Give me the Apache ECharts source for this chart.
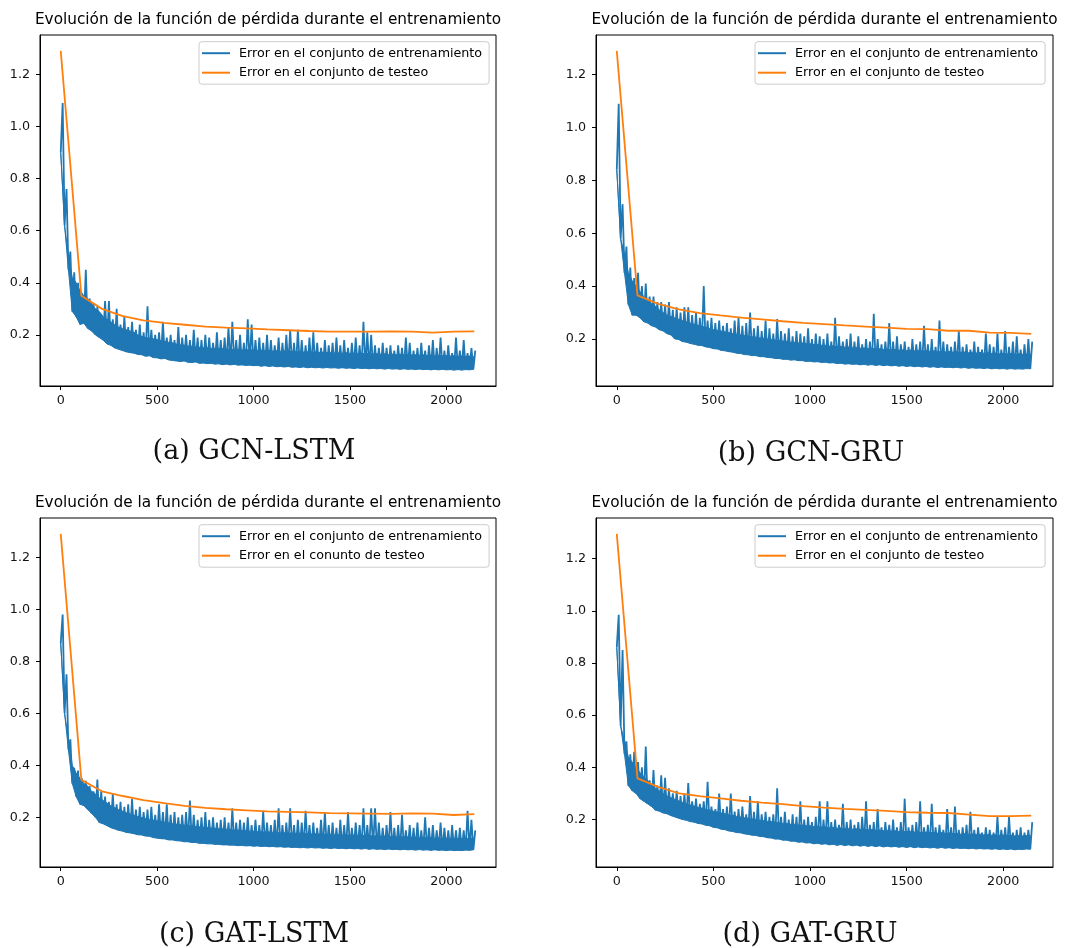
<!DOCTYPE html>
<html>
<head>
<meta charset="utf-8">
<title>Evolución de la función de pérdida</title>
<script src="https://cdn.jsdelivr.net/npm/echarts@6/dist/echarts.min.js"></script>
<style>
  html, body { margin: 0; padding: 0; background: #fff; }
  #chart { width: 1078px; height: 948px; }
</style>
</head>
<body>
<div id="chart"></div>
<script>
// colores estilo matplotlib
const trainColor = '#1f77b4'
const testColor = '#ff7f0e'

const trainName = 'Error en el conjunto de entrenamiento'
const testName = 'Error en el conjunto de testeo'
const testNameTypo = 'Error en el conunto de testeo'

const xTicks = [0, 500, 1000, 1500, 2000]
const yTicks = [0.2, 0.4, 0.6, 0.8, 1.0, 1.2]

// pasos donde se evalua el conjunto de testeo
const testSteps = [0, 107, 214, 322, 429, 536, 643, 751, 858, 965, 1072, 1180, 1287, 1394, 1501, 1609, 1716, 1823, 1930, 2038, 2145]

const gcnLstmTest = [1.29, 0.35, 0.30, 0.272, 0.256, 0.246, 0.239, 0.232, 0.228, 0.225, 0.221, 0.218, 0.215, 0.213, 0.213, 0.213, 0.214, 0.213, 0.209, 0.213, 0.214]
const gcnGruTest = [1.29, 0.365, 0.333, 0.312, 0.298, 0.289, 0.281, 0.274, 0.267, 0.261, 0.256, 0.251, 0.247, 0.243, 0.238, 0.237, 0.231, 0.231, 0.224, 0.223, 0.219]
const gatLstmTest = [1.29, 0.344, 0.30, 0.282, 0.266, 0.255, 0.244, 0.236, 0.231, 0.227, 0.223, 0.221, 0.219, 0.216, 0.215, 0.214, 0.213, 0.215, 0.214, 0.209, 0.212]
const gatGruTest = [1.295, 0.358, 0.325, 0.30, 0.29, 0.281, 0.272, 0.265, 0.259, 0.251, 0.246, 0.241, 0.237, 0.233, 0.228, 0.226, 0.225, 0.219, 0.213, 0.213, 0.215]

// entrenamiento: valles (pasos 0,20,40,...), borde superior de la banda densa
// (mismos pasos) y picos (pasos 10,30,50,...)
const gcnLstmTrainLow = [
  0.90, 0.62, 0.45, 0.29, 0.27, 0.24, 0.245, 0.225, 0.215, 0.20,
  0.19, 0.18, 0.165, 0.16, 0.15, 0.145, 0.14, 0.135, 0.132, 0.13,
  0.125, 0.124, 0.118, 0.12, 0.113, 0.112, 0.108, 0.11, 0.104, 0.102,
  0.10, 0.098, 0.10, 0.095, 0.094, 0.096, 0.091, 0.092, 0.09, 0.091,
  0.088, 0.089, 0.086, 0.088, 0.085, 0.087, 0.084, 0.085, 0.083, 0.084,
  0.082, 0.083, 0.08, 0.082, 0.079, 0.081, 0.078, 0.079, 0.077, 0.079,
  0.076, 0.077, 0.075, 0.077, 0.074, 0.076, 0.074, 0.075, 0.073, 0.075,
  0.073, 0.074, 0.072, 0.074, 0.072, 0.073, 0.071, 0.073, 0.071, 0.072,
  0.07, 0.072, 0.07, 0.071, 0.069, 0.071, 0.069, 0.07, 0.068, 0.07,
  0.068, 0.069, 0.067, 0.069, 0.067, 0.068, 0.066, 0.068, 0.066, 0.068,
  0.066, 0.067, 0.065, 0.067, 0.065, 0.067, 0.066, 0.068
]
const gcnLstmTrainCore = [
  0.90, 0.62, 0.50, 0.42, 0.40, 0.37, 0.35, 0.34, 0.32, 0.30,
  0.29, 0.27, 0.26, 0.25, 0.24, 0.23, 0.225, 0.22, 0.215, 0.21,
  0.20, 0.195, 0.19, 0.188, 0.185, 0.182, 0.178, 0.176, 0.172, 0.17,
  0.165, 0.162, 0.161, 0.157, 0.157, 0.154, 0.153, 0.151, 0.151, 0.148,
  0.149, 0.147, 0.148, 0.145, 0.146, 0.144, 0.145, 0.142, 0.144, 0.142,
  0.143, 0.14, 0.142, 0.139, 0.141, 0.138, 0.14, 0.137, 0.139, 0.136,
  0.138, 0.135, 0.137, 0.134, 0.136, 0.133, 0.135, 0.132, 0.134, 0.132,
  0.133, 0.131, 0.132, 0.13, 0.132, 0.129, 0.131, 0.128, 0.13, 0.128,
  0.129, 0.127, 0.128, 0.126, 0.128, 0.125, 0.127, 0.124, 0.126, 0.124,
  0.125, 0.123, 0.124, 0.122, 0.124, 0.121, 0.123, 0.12, 0.122, 0.12,
  0.121, 0.119, 0.12, 0.118, 0.12, 0.118, 0.119, 0.118
]
const gcnLstmTrainHigh = [
  1.09, 0.76, 0.52, 0.44, 0.40, 0.36, 0.45, 0.34, 0.32, 0.31,
  0.28, 0.33, 0.33, 0.26, 0.30, 0.24, 0.27, 0.23, 0.25, 0.22,
  0.24, 0.21, 0.31, 0.22, 0.20, 0.21, 0.25, 0.19, 0.20, 0.18,
  0.23, 0.19, 0.20, 0.18, 0.22, 0.19, 0.18, 0.20, 0.19, 0.17,
  0.21, 0.18, 0.19, 0.23, 0.25, 0.18, 0.20, 0.17, 0.26, 0.24,
  0.18, 0.19, 0.17, 0.20, 0.18, 0.16, 0.19, 0.17, 0.20, 0.22,
  0.17, 0.22, 0.18, 0.16, 0.19, 0.21, 0.17, 0.15, 0.18, 0.16,
  0.17, 0.19, 0.16, 0.18, 0.15, 0.17, 0.19, 0.16, 0.25, 0.21,
  0.20, 0.16, 0.15, 0.17, 0.15, 0.16, 0.14, 0.16, 0.15, 0.19,
  0.17, 0.14, 0.15, 0.17, 0.14, 0.16, 0.18, 0.15, 0.19, 0.14,
  0.16, 0.13, 0.19, 0.14, 0.18, 0.13, 0.15, 0.14
]

const gcnGruTrainLow = [
  0.84, 0.58, 0.45, 0.33, 0.29, 0.29, 0.28, 0.265, 0.26, 0.25,
  0.245, 0.235, 0.23, 0.22, 0.215, 0.20, 0.198, 0.19, 0.188, 0.183,
  0.18, 0.176, 0.175, 0.17, 0.168, 0.163, 0.162, 0.157, 0.155, 0.152,
  0.15, 0.146, 0.145, 0.141, 0.14, 0.137, 0.137, 0.133, 0.133, 0.13,
  0.129, 0.126, 0.126, 0.123, 0.123, 0.12, 0.121, 0.118, 0.118, 0.115,
  0.116, 0.113, 0.114, 0.111, 0.112, 0.109, 0.11, 0.107, 0.108, 0.105,
  0.106, 0.104, 0.105, 0.102, 0.104, 0.101, 0.103, 0.10, 0.102, 0.099,
  0.101, 0.098, 0.10, 0.097, 0.099, 0.096, 0.098, 0.095, 0.097, 0.094,
  0.096, 0.093, 0.095, 0.092, 0.094, 0.092, 0.093, 0.091, 0.093, 0.09,
  0.092, 0.089, 0.091, 0.089, 0.09, 0.088, 0.09, 0.087, 0.089, 0.087,
  0.088, 0.086, 0.088, 0.086, 0.087, 0.086, 0.088, 0.087
]
const gcnGruTrainCore = [
  0.84, 0.58, 0.52, 0.45, 0.42, 0.40, 0.38, 0.36, 0.345, 0.335,
  0.325, 0.31, 0.30, 0.29, 0.285, 0.28, 0.275, 0.27, 0.265, 0.26,
  0.256, 0.252, 0.248, 0.244, 0.24, 0.236, 0.233, 0.23, 0.227, 0.224,
  0.221, 0.218, 0.216, 0.213, 0.211, 0.208, 0.207, 0.204, 0.203, 0.20,
  0.199, 0.196, 0.195, 0.192, 0.191, 0.188, 0.188, 0.185, 0.185, 0.182,
  0.182, 0.179, 0.179, 0.176, 0.176, 0.173, 0.174, 0.171, 0.172, 0.169,
  0.17, 0.167, 0.168, 0.165, 0.166, 0.163, 0.165, 0.162, 0.163, 0.16,
  0.162, 0.159, 0.16, 0.157, 0.159, 0.156, 0.158, 0.155, 0.157, 0.154,
  0.156, 0.153, 0.155, 0.152, 0.154, 0.151, 0.153, 0.15, 0.152, 0.149,
  0.151, 0.148, 0.15, 0.147, 0.149, 0.146, 0.148, 0.145, 0.147, 0.144,
  0.146, 0.143, 0.145, 0.142, 0.144, 0.142, 0.143, 0.142
]
const gcnGruTrainHigh = [
  1.09, 0.71, 0.55, 0.47, 0.43, 0.45, 0.40, 0.41, 0.36, 0.36,
  0.34, 0.34, 0.33, 0.34, 0.31, 0.32, 0.30, 0.32, 0.32, 0.29,
  0.30, 0.28, 0.40, 0.27, 0.28, 0.26, 0.27, 0.25, 0.26, 0.24,
  0.27, 0.28, 0.25, 0.26, 0.30, 0.24, 0.25, 0.23, 0.27, 0.24,
  0.22, 0.275, 0.23, 0.22, 0.24, 0.21, 0.23, 0.22, 0.21, 0.24,
  0.20, 0.22, 0.21, 0.20, 0.22, 0.19, 0.28, 0.21, 0.19, 0.20,
  0.22, 0.19, 0.21, 0.18, 0.20, 0.19, 0.295, 0.20, 0.18, 0.19,
  0.26, 0.19, 0.21, 0.18, 0.19, 0.17, 0.20, 0.18, 0.19, 0.25,
  0.18, 0.20, 0.17, 0.27, 0.19, 0.18, 0.17, 0.19, 0.23, 0.17,
  0.18, 0.16, 0.19, 0.17, 0.16, 0.22, 0.18, 0.17, 0.22, 0.16,
  0.23, 0.17, 0.19, 0.21, 0.16, 0.18, 0.20, 0.19
]

const gatLstmTrainLow = [
  0.87, 0.60, 0.46, 0.33, 0.28, 0.25, 0.245, 0.23, 0.215, 0.20,
  0.18, 0.175, 0.168, 0.16, 0.155, 0.15, 0.147, 0.142, 0.14, 0.137,
  0.133, 0.132, 0.128, 0.127, 0.122, 0.12, 0.118, 0.117, 0.113, 0.113,
  0.11, 0.109, 0.106, 0.106, 0.103, 0.103, 0.10, 0.10, 0.098, 0.098,
  0.096, 0.096, 0.094, 0.094, 0.093, 0.093, 0.091, 0.092, 0.09, 0.091,
  0.089, 0.09, 0.088, 0.089, 0.087, 0.088, 0.086, 0.087, 0.085, 0.086,
  0.084, 0.085, 0.083, 0.084, 0.082, 0.084, 0.082, 0.083, 0.081, 0.082,
  0.08, 0.082, 0.08, 0.081, 0.079, 0.081, 0.079, 0.08, 0.078, 0.08,
  0.077, 0.079, 0.077, 0.078, 0.076, 0.078, 0.076, 0.077, 0.075, 0.077,
  0.075, 0.076, 0.074, 0.076, 0.074, 0.075, 0.073, 0.075, 0.073, 0.074,
  0.072, 0.074, 0.072, 0.073, 0.072, 0.074, 0.073, 0.075
]
const gatLstmTrainCore = [
  0.87, 0.60, 0.50, 0.40, 0.37, 0.35, 0.33, 0.32, 0.30, 0.29,
  0.275, 0.265, 0.255, 0.245, 0.238, 0.23, 0.224, 0.218, 0.213, 0.208,
  0.203, 0.199, 0.196, 0.192, 0.19, 0.186, 0.184, 0.181, 0.179, 0.176,
  0.174, 0.172, 0.17, 0.168, 0.167, 0.165, 0.164, 0.162, 0.161, 0.159,
  0.158, 0.156, 0.156, 0.154, 0.153, 0.151, 0.151, 0.149, 0.149, 0.147,
  0.147, 0.145, 0.145, 0.143, 0.144, 0.142, 0.142, 0.14, 0.141, 0.139,
  0.14, 0.138, 0.139, 0.137, 0.138, 0.136, 0.137, 0.135, 0.136, 0.134,
  0.135, 0.133, 0.134, 0.132, 0.133, 0.131, 0.132, 0.13, 0.131, 0.129,
  0.13, 0.128, 0.129, 0.127, 0.128, 0.126, 0.127, 0.125, 0.126, 0.124,
  0.125, 0.123, 0.124, 0.122, 0.123, 0.121, 0.122, 0.12, 0.121, 0.119,
  0.12, 0.118, 0.12, 0.118, 0.119, 0.118, 0.12, 0.12
]
const gatLstmTrainHigh = [
  0.98, 0.75, 0.50, 0.39, 0.38, 0.35, 0.34, 0.32, 0.30, 0.345,
  0.30, 0.28, 0.26, 0.29, 0.25, 0.26, 0.24, 0.25, 0.27, 0.23,
  0.24, 0.22, 0.23, 0.24, 0.21, 0.25, 0.22, 0.25, 0.21, 0.22,
  0.20, 0.21, 0.22, 0.265, 0.21, 0.19, 0.20, 0.22, 0.19, 0.20,
  0.18, 0.19, 0.20, 0.18, 0.235, 0.18, 0.19, 0.18, 0.20, 0.17,
  0.19, 0.17, 0.225, 0.18, 0.17, 0.19, 0.235, 0.17, 0.18, 0.235,
  0.17, 0.19, 0.18, 0.225, 0.17, 0.18, 0.16, 0.19, 0.22, 0.17,
  0.18, 0.16, 0.19, 0.17, 0.22, 0.16, 0.18, 0.17, 0.235, 0.17,
  0.235, 0.235, 0.18, 0.16, 0.17, 0.22, 0.16, 0.17, 0.21, 0.15,
  0.17, 0.16, 0.18, 0.15, 0.20, 0.16, 0.17, 0.15, 0.18, 0.16,
  0.15, 0.17, 0.15, 0.16, 0.15, 0.225, 0.19, 0.15
]

const gatGruTrainLow = [
  0.86, 0.56, 0.45, 0.33, 0.31, 0.30, 0.28, 0.27, 0.26, 0.25,
  0.236, 0.232, 0.225, 0.222, 0.215, 0.21, 0.205, 0.20, 0.197, 0.192,
  0.19, 0.185, 0.183, 0.178, 0.176, 0.17, 0.168, 0.163, 0.161, 0.156,
  0.154, 0.15, 0.149, 0.145, 0.143, 0.14, 0.139, 0.135, 0.134, 0.13,
  0.129, 0.125, 0.125, 0.121, 0.121, 0.117, 0.117, 0.113, 0.114, 0.11,
  0.111, 0.107, 0.109, 0.105, 0.107, 0.103, 0.105, 0.101, 0.104, 0.10,
  0.103, 0.099, 0.102, 0.098, 0.101, 0.097, 0.10, 0.096, 0.099, 0.095,
  0.098, 0.095, 0.097, 0.094, 0.096, 0.093, 0.096, 0.092, 0.095, 0.092,
  0.094, 0.091, 0.093, 0.09, 0.093, 0.09, 0.092, 0.089, 0.091, 0.089,
  0.09, 0.088, 0.09, 0.087, 0.089, 0.087, 0.088, 0.086, 0.088, 0.085,
  0.087, 0.085, 0.087, 0.084, 0.086, 0.085, 0.087, 0.086
]
const gatGruTrainCore = [
  0.86, 0.56, 0.50, 0.44, 0.42, 0.40, 0.38, 0.365, 0.35, 0.335,
  0.32, 0.31, 0.30, 0.29, 0.284, 0.278, 0.272, 0.266, 0.261, 0.256,
  0.252, 0.247, 0.244, 0.239, 0.236, 0.232, 0.229, 0.225, 0.222, 0.218,
  0.216, 0.212, 0.21, 0.207, 0.205, 0.202, 0.20, 0.197, 0.196, 0.193,
  0.192, 0.189, 0.188, 0.185, 0.185, 0.182, 0.182, 0.179, 0.179, 0.176,
  0.176, 0.173, 0.174, 0.171, 0.172, 0.169, 0.17, 0.167, 0.168, 0.165,
  0.166, 0.163, 0.165, 0.162, 0.163, 0.16, 0.162, 0.159, 0.16, 0.157,
  0.159, 0.156, 0.157, 0.154, 0.156, 0.153, 0.155, 0.152, 0.153, 0.15,
  0.152, 0.149, 0.151, 0.148, 0.15, 0.147, 0.149, 0.146, 0.147, 0.144,
  0.146, 0.143, 0.145, 0.142, 0.144, 0.141, 0.143, 0.14, 0.142, 0.139,
  0.141, 0.138, 0.14, 0.137, 0.139, 0.137, 0.139, 0.138
]
const gatGruTrainHigh = [
  0.985, 0.85, 0.50, 0.45, 0.46, 0.42, 0.40, 0.48, 0.35, 0.39,
  0.33, 0.37, 0.36, 0.32, 0.30, 0.31, 0.29, 0.30, 0.34, 0.27,
  0.28, 0.26, 0.27, 0.345, 0.25, 0.24, 0.30, 0.24, 0.25, 0.30,
  0.23, 0.24, 0.25, 0.22, 0.29, 0.23, 0.27, 0.22, 0.23, 0.21,
  0.22, 0.32, 0.21, 0.23, 0.20, 0.22, 0.21, 0.27, 0.20, 0.21,
  0.19, 0.21, 0.27, 0.20, 0.27, 0.19, 0.20, 0.18, 0.26, 0.19,
  0.20, 0.18, 0.19, 0.21, 0.27, 0.18, 0.19, 0.24, 0.17, 0.19,
  0.18, 0.20, 0.17, 0.19, 0.28, 0.17, 0.18, 0.19, 0.27, 0.17,
  0.18, 0.26, 0.17, 0.18, 0.16, 0.24, 0.17, 0.25, 0.16, 0.17,
  0.18, 0.23, 0.16, 0.17, 0.15, 0.17, 0.16, 0.15, 0.21, 0.16,
  0.17, 0.21, 0.15, 0.16, 0.17, 0.15, 0.16, 0.19
]

// paneles: datos + posicion en la figura
const panels = [
  { low: gcnLstmTrainLow, core: gcnLstmTrainCore, high: gcnLstmTrainHigh, test: gcnLstmTest, testLabel: testName,
    caption: '(a) GCN-LSTM', yMin: 0.004, yMax: 1.351,
    left: 40, top: 35, width: 456, height: 351, capX: 254, capY: 438 },
  { low: gcnGruTrainLow, core: gcnGruTrainCore, high: gcnGruTrainHigh, test: gcnGruTest, testLabel: testName,
    caption: '(b) GCN-GRU', yMin: 0.022, yMax: 1.350,
    left: 596, top: 35, width: 457, height: 351, capX: 811, capY: 440 },
  { low: gatLstmTrainLow, core: gatLstmTrainCore, high: gatLstmTrainHigh, test: gatLstmTest, testLabel: testNameTypo,
    caption: '(c) GAT-LSTM', yMin: 0.009, yMax: 1.351,
    left: 40, top: 518, width: 456, height: 349, capX: 254, capY: 921 },
  { low: gatGruTrainLow, core: gatGruTrainCore, high: gatGruTrainHigh, test: gatGruTest, testLabel: testName,
    caption: '(d) GAT-GRU', yMin: 0.018, yMax: 1.356,
    left: 596, top: 518, width: 457, height: 349, capX: 810, capY: 921 }
]

// une valles y picos en una sola curva (cada 10 pasos)
function buildTrain(low, high) {
  const pts = []
  for (let k = 0; k < low.length; k++) {
    pts.push([k * 20, low[k]])
    pts.push([k * 20 + 10, high[k]])
  }
  return pts
}

// banda densa entre valles y borde superior
function bandRenderer(p) {
  return function (params, api) {
    const pts = []
    p.core.forEach((v, k) => pts.push(api.coord([k * 20, v])))
    for (let k = p.low.length - 1; k >= 0; k--) pts.push(api.coord([k * 20, p.low[k]]))
    return {
      type: 'polygon',
      shape: { points: pts },
      style: { fill: trainColor, stroke: trainColor, lineWidth: 1 }
    }
  }
}

const font = 'DejaVu Sans'
const axisCommon = {
  axisLine: { show: true, onZero: false, lineStyle: { color: '#000', width: 1 } },
  axisTick: { show: true, length: 4, lineStyle: { color: '#000', width: 1 } },
  splitLine: { show: false }
}

const option = {
  animation: false,
  backgroundColor: '#fff',
  title: [],
  legend: [],
  grid: [],
  xAxis: [],
  yAxis: [],
  series: []
}

panels.forEach((p, i) => {
  option.grid.push({
    left: p.left, top: p.top, width: p.width, height: p.height,
    show: true, borderColor: '#000', borderWidth: 1, backgroundColor: 'transparent'
  })
  option.xAxis.push({
    type: 'value', gridIndex: i, min: -107.5, max: 2257.5,
    ...axisCommon,
    axisTick: { ...axisCommon.axisTick, customValues: xTicks },
    axisLabel: {
      customValues: xTicks, margin: 8, color: '#111', fontFamily: font, fontSize: 12.7,
      formatter: v => String(v)
    }
  })
  option.yAxis.push({
    type: 'value', gridIndex: i, min: p.yMin, max: p.yMax,
    ...axisCommon,
    axisTick: { ...axisCommon.axisTick, customValues: yTicks },
    axisLabel: {
      customValues: yTicks, margin: 10, color: '#111', fontFamily: font, fontSize: 12.7,
      formatter: v => v.toFixed(1)
    }
  })
  option.title.push({
    text: 'Evolución de la función de pérdida durante el entrenamiento',
    left: p.left + p.width / 2, top: p.top - 22, textAlign: 'center', padding: 0,
    textStyle: { fontFamily: font, fontSize: 15.3, fontWeight: 'normal', color: '#000' }
  })
  option.title.push({
    text: p.caption,
    left: p.capX, top: p.capY, textAlign: 'center', padding: 0,
    textStyle: { fontFamily: 'DejaVu Serif', fontSize: 27, fontWeight: 'normal', color: '#111' }
  })
  option.legend.push({
    data: [trainName, p.testLabel],
    orient: 'vertical',
    left: p.left + 159, top: p.top + 6.7,
    icon: 'rect', itemWidth: 28, itemHeight: 2, itemGap: 4.5,
    padding: [4, 7, 4, 3],
    borderColor: '#ccc', borderWidth: 1, borderRadius: 3,
    backgroundColor: 'rgba(255,255,255,0.8)',
    selectedMode: false,
    textStyle: { fontFamily: font, fontSize: 12.7, color: '#000', lineHeight: 15, padding: [0, 0, 0, 4] }
  })
  option.series.push({
    name: 'banda', type: 'custom', xAxisIndex: i, yAxisIndex: i,
    data: [[0, p.low[0]]], silent: true, clip: true,
    renderItem: bandRenderer(p)
  })
  option.series.push({
    name: trainName, type: 'line', xAxisIndex: i, yAxisIndex: i,
    data: buildTrain(p.low, p.high),
    symbol: 'none', showSymbol: false, clip: true,
    color: trainColor, lineStyle: { color: trainColor, width: 1.8 }
  })
  option.series.push({
    name: p.testLabel, type: 'line', xAxisIndex: i, yAxisIndex: i,
    data: testSteps.map((s, j) => [s, p.test[j]]),
    symbol: 'none', showSymbol: false, clip: true,
    color: testColor, lineStyle: { color: testColor, width: 1.8 }
  })
})

const myChart = echarts.init(document.getElementById('chart'))
myChart.setOption(option)
</script>
</body>
</html>
